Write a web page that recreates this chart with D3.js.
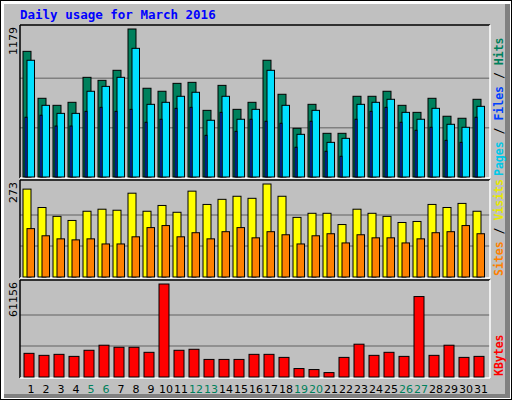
<!DOCTYPE html>
<html><head><meta charset="utf-8">
<script src="https://cdn.jsdelivr.net/npm/d3@7"></script>
<style>body{margin:0;background:#fff}</style></head>
<body><svg id="c" width="512" height="400"></svg>
<script>
const days = d3.range(1, 32);
const weekend = [5,6,12,13,19,20,26,27];
const hits = [1001,627,571,595,794,770,850,1179,707,683,746,754,531,730,539,595,930,659,388,579,348,348,643,643,683,571,515,627,484,468,619];
const files = [930,571,507,507,683,722,794,1025,579,595,643,675,452,643,460,539,850,571,340,531,276,308,579,595,619,515,460,547,420,396,563];
const pages = [476,492,406,406,523,555,523,539,436,460,547,555,332,515,364,460,444,428,237,444,205,165,460,523,555,436,372,396,292,276,476];
const visits = [258,204,178,166,193,199,196,246,193,210,190,252,213,228,237,231,273,237,175,187,187,154,199,187,178,160,163,213,204,216,193];
const sites = [142,121,112,109,112,97,97,118,145,151,118,130,112,133,145,115,133,124,97,121,127,100,124,115,115,100,112,130,133,151,127];
const kbytes = [15560,14240,14900,13560,17570,20900,19560,19560,16230,61156,17570,18230,11560,11560,11560,14900,14900,12900,5560,4900,2900,12900,21570,14240,16230,13560,52900,14240,20900,12900,13560];
const maxHits = 1179, maxVisits = 273, maxKB = 61156;

const svg = d3.select("#c");
// frame
svg.append("rect").attr("x",0).attr("y",0).attr("width",512).attr("height",400).attr("fill","#000");
svg.append("rect").attr("x",1).attr("y",1).attr("width",510).attr("height",398).attr("fill","#fff");
svg.append("rect").attr("x",4).attr("y",4).attr("width",506).attr("height",394).attr("fill","#808080");
svg.append("rect").attr("x",4).attr("y",4).attr("width",501).attr("height",390).attr("fill","#c0c0c0");

const X0 = 20, X1 = 490;
const x = d3.scaleBand().domain(days).range([X0+3, X0+3+15*31]).paddingInner(0);

const fm = "'DejaVu Sans Mono', monospace";
svg.append("text").attr("x",20).attr("y",19).attr("font-family",fm).attr("font-weight","bold")
  .attr("font-size",12.5).attr("fill","#0000ff").text("Daily usage for March 2016");

function panel(y0, y1, ytop, maxv, label, legend) {
  svg.append("rect").attr("x",X0).attr("y",y0).attr("width",X1-X0).attr("height",y1-y0).attr("fill","#c0c0c0");
  const y = d3.scaleLinear().domain([0, maxv]).range([y1-1, ytop]);
  [1/3, 2/3].forEach(f => {
    svg.append("line").attr("x1",X0).attr("x2",X1).attr("y1",y(maxv*f)).attr("y2",y(maxv*f))
      .attr("stroke","#808080").attr("stroke-width",1.5);
  });
  svg.append("line").attr("x1",X0).attr("x2",X1).attr("y1",y0).attr("y2",y0).attr("stroke","#000").attr("stroke-width",1.5);
  svg.append("line").attr("x1",X0).attr("x2",X0).attr("y1",y0).attr("y2",y1).attr("stroke","#000").attr("stroke-width",1.5);
  svg.append("line").attr("x1",X1).attr("x2",X1).attr("y1",y0).attr("y2",y1).attr("stroke","#fff").attr("stroke-width",1.5);
  svg.append("line").attr("x1",X0).attr("x2",X1).attr("y1",y1).attr("y2",y1).attr("stroke","#fff").attr("stroke-width",1.5);
  svg.append("text").attr("transform",`translate(17,${y0+2}) rotate(-90)`).attr("text-anchor","end")
    .attr("font-family","'DejaVu Sans', sans-serif").attr("font-size",11).attr("fill","#000").text(label);
  const t = svg.append("text").attr("transform",`translate(503,${y1-2}) rotate(-90)`)
    .attr("font-family",fm).attr("font-weight","bold").attr("font-size",11.5);
  legend.forEach(([s,c]) => t.append("tspan").attr("fill",c).text(s));
  return y;
}
function bars(data, y, dx, w, color) {
  svg.append("g").selectAll("rect").data(data).join("rect")
    .attr("x",(d,i)=>x(days[i])+dx).attr("width",w)
    .attr("y",d=>y(d)).attr("height",d=>y(0)-y(d))
    .attr("fill",color).attr("stroke","#000").attr("stroke-width",1);
}
const y1 = panel(25, 178, 29, maxHits, "1179", [["Pages","#00c8e8"],[" / ","#000"],["Files","#0040ff"],[" / ","#000"],["Hits","#00805c"]]);
bars(hits, y1, 0, 8, "#00805c");
bars(files, y1, 4, 7.5, "#00e0ff");
bars(pages, y1, 2, 2, "#0040ff");

const y2 = panel(180, 278, 184, maxVisits, "273", [["Sites","#ff8000"],[" / ","#000"],["Visits","#e8e800"]]);
bars(visits, y2, 0, 8, "#ffff00");
bars(sites, y2, 4, 7.5, "#ff8000");

const y3 = panel(280, 378, 284, maxKB, "61156", [["KBytes","#ff0000"]]);
bars(kbytes, y3, 1, 10, "#ff0000");

svg.append("g").selectAll("text").data(days).join("text")
  .attr("x",d=>x(d)+8).attr("y",393).attr("text-anchor","middle")
  .attr("font-family","'DejaVu Sans', sans-serif").attr("font-size",11)
  .attr("fill",d=>weekend.includes(d)?"#00805c":"#000").text(d=>d);
</script></body></html>
